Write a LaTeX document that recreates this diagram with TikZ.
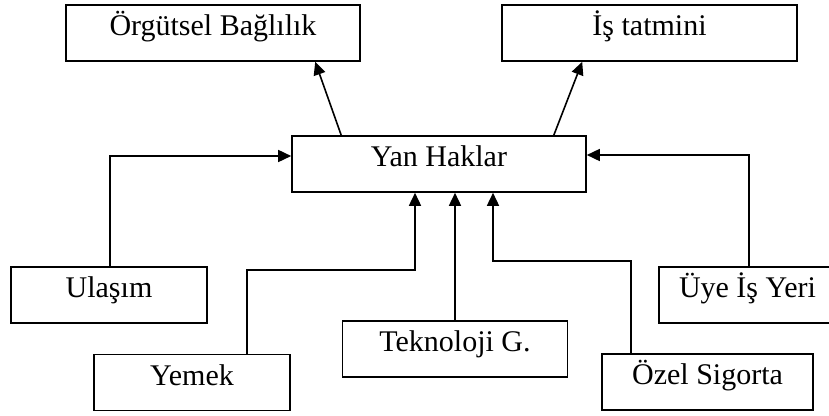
\documentclass[tikz,border=0pt]{standalone}
\usepackage{fontspec}
\setmainfont{Liberation Serif}
\usepackage{tikz}
\usetikzlibrary{positioning,arrows.meta,calc}
\tikzset{
    factorbox/.style={draw,line width=1.6pt,inner sep=0pt,minimum height=56pt,
        text height=12pt,text depth=7pt,font=\fontsize{30}{35}\selectfont},
    link/.style={line width=1.6pt,-{Triangle[length=13pt,width=12pt]}}
}

\begin{document}
\begin{tikzpicture}[x=1pt,y=-1pt]
            \useasboundingbox (0,0) rectangle (829,415);
            % outcomes
            \node[factorbox,minimum width=294pt] (org) at (213,33) {Örgütsel Bağlılık};
            \node[factorbox,minimum width=295pt] (tatmin) at (649.5,33) {İş tatmini};
            % centre
            \node[factorbox,minimum width=294pt] (yan) at (439,164) {Yan Haklar};
            % benefits
            \node[factorbox,minimum width=196pt] (ulasim) at (109,295) {Ulaşım};
            \node[factorbox,minimum width=200pt] (uye) at (759,295) {\makebox[200pt][l]{\hspace{20pt}Üye İş Yeri}};
            \node[factorbox,minimum width=196pt] (yemek) at (192,382.5) {Yemek};
            \node[factorbox,minimum width=225pt] (tekno) at (455,349) {Teknoloji G.};
            \node[factorbox,minimum width=211pt] (ozel) at (707.5,382) {Özel Sigorta};
            % connectors
            \draw[link] ([xshift=50pt]yan.north west) -- ([xshift=250pt]org.south west);
            \draw[link] ([xshift=-33pt]yan.north east) -- ([xshift=81pt]tatmin.south west);
            \draw[link] ([xshift=1pt]ulasim.north) |- ([yshift=8pt]yan.west);
            \draw[link] ([xshift=-10pt]uye.north) |- ([yshift=9pt]yan.east);
            \draw[link] ([xshift=55pt]yemek.north) -- ++(0,-84) -| ([xshift=-24pt]yan.south);
            \draw[link] (tekno.north) -- ([xshift=16pt]yan.south);
            \draw[link] ([xshift=-76.5pt]ozel.north) -- ++(0,-92) -| ([xshift=54pt]yan.south);
        \end{tikzpicture}
\end{document}
